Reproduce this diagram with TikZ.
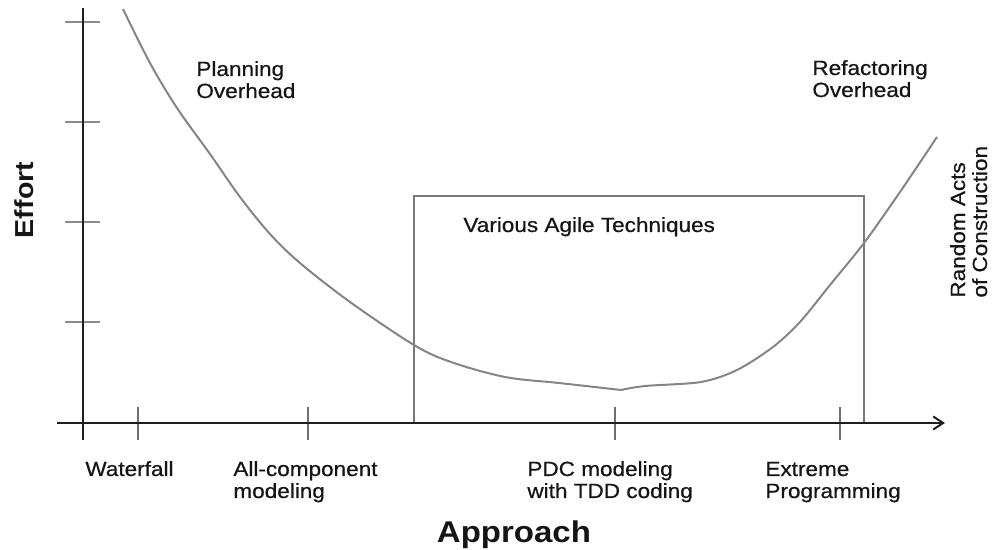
\documentclass[tikz,border=0pt]{standalone}
\usepackage{fontspec}
\setmainfont{Liberation Sans}[FakeStretch=1.1]
\newfontfamily\labelfamily{Liberation Sans}[FakeStretch=1.1, FakeBold=0.6]
\usetikzlibrary{arrows.meta}

\definecolor{axisink}{HTML}{1E1E1E}
\definecolor{curveink}{HTML}{858585}
\definecolor{boxink}{HTML}{7A7A7A}
\definecolor{tickink}{HTML}{8C8C8C}
\definecolor{labelink}{HTML}{151515}

\tikzset{
  axisline/.style={draw=axisink, line width=1pt},
  ytick/.style={draw=tickink, line width=0.6pt},
  xtick/.style={draw=tickink!80!black, line width=0.6pt},
  agilebox/.style={draw=boxink, line width=0.6pt},
  effortcurve/.style={draw=curveink, line width=1pt, line join=round},
  lbl/.style={inner sep=0pt, text=labelink, align=left,
    font=\labelfamily\fontsize{10.25}{11}\selectfont},
  axistitle/.style={inner sep=0pt, text=labelink, font=\bfseries},
}

\begin{document}
\begin{tikzpicture}[x=0.5pt, y=-0.5pt]
\path[use as bounding box] (0,0) rectangle (992,550);

% axes
\coordinate (ytop) at (83,8);
\coordinate (ybot) at (83,440);
\coordinate (xleft) at (57,423);
\coordinate (xright) at (945,423);

% box around the agile approaches (bottom edge lies on the axis)
\draw[agilebox] (414,423) rectangle (864,196);

% effort ticks on the vertical axis
\foreach \ty in {22,122,222,322}
  \draw[ytick] (65,\ty) -- (100,\ty);

% approach ticks on the horizontal axis
\foreach \tx in {138,308,615,840}
  \draw[xtick] (\tx,407) -- (\tx,440);

\draw[axisline] (ytop) -- (ybot);
\draw[axisline, -{Straight Barb[length=5pt,width=6.5pt]}] (xleft) -- (xright);

% effort curve: steep planning side, flat minimum, rising refactoring side
\draw[effortcurve] plot[smooth, tension=0.55] coordinates {
  (123,9) (150,63) (177,108) (210,154) (240,197) (270,234) (300,263)
  (350,302) (414,345) (451,362) (505,377) (559,383) (621,390)};
\draw[effortcurve] plot[smooth, tension=0.5] coordinates {
  (621,390) (645,386) (701,382) (737,370) (773,347) (800,322)
  (830,285) (864,243) (900,192) (937,137)};

% labels (multi-line nodes are anchored at the baseline of their last line)
\node[lbl, anchor=base west] (planning) at (196,98) {Planning\\Overhead};
\node[lbl, anchor=base west] (refactoring) at (812,97) {Refactoring\\Overhead};
\node[lbl, anchor=base west] (agile) at (463,232) {Various Agile Techniques};
\node[lbl, anchor=base west, rotate=90] (random) at (987,298) {Random Acts\\of Construction};

\node[lbl, anchor=base west] (waterfall) at (85,476) {Waterfall};
\node[lbl, anchor=base west] (allcomp) at (233,498) {All-component\\modeling};
\node[lbl, anchor=base west] (pdc) at (527,498) {PDC modeling\\with TDD coding};
\node[lbl, anchor=base west] (xp) at (765,498) {Extreme\\Programming};

\node[axistitle, anchor=base, rotate=90, font=\bfseries\fontsize{13}{15}\selectfont] (effort) at (33,200) {Effort};
\node[axistitle, anchor=base, font=\bfseries\fontsize{15}{18}\selectfont] (approach) at (514,543) {Approach};
\end{tikzpicture}
\end{document}
